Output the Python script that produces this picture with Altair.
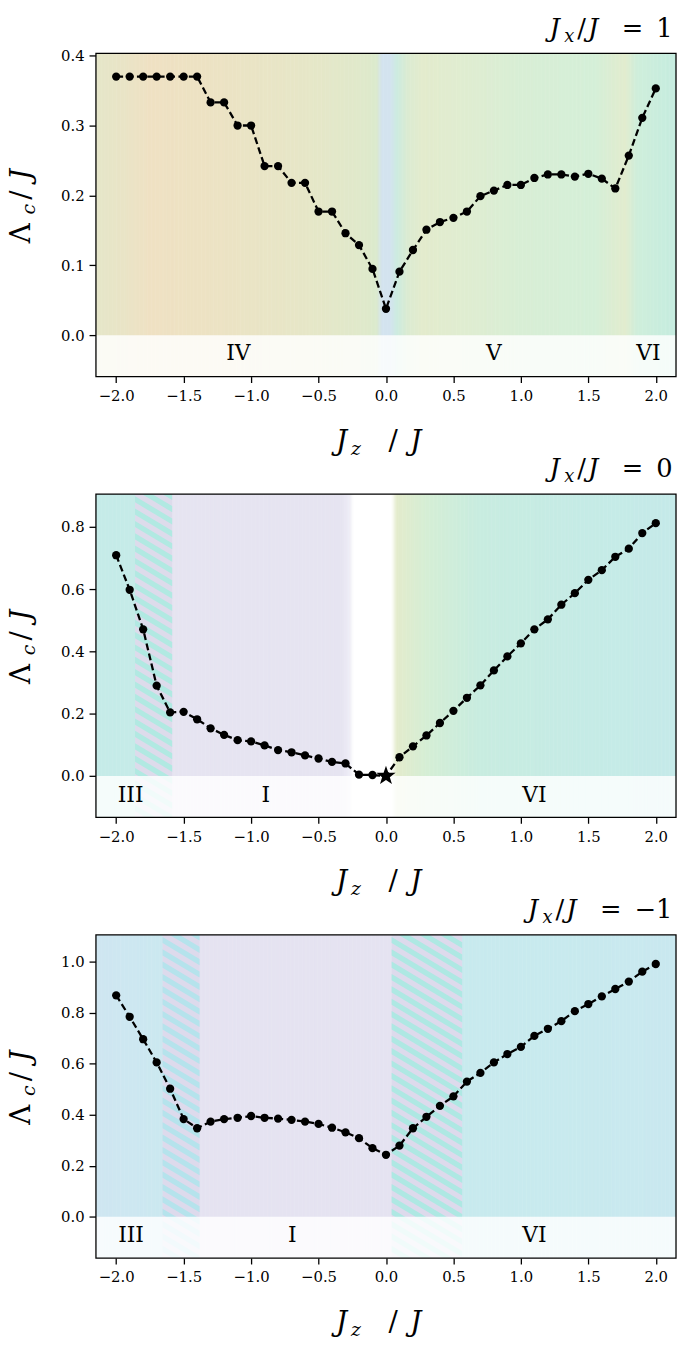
import altair as alt
import pandas as pd
import numpy as np

FONT = "DejaVu Serif"

# ---------------- data ----------------
JZ = [-2.0, -1.9, -1.8, -1.7, -1.6, -1.5, -1.4, -1.3, -1.2, -1.1, -1.0,
      -0.9, -0.8, -0.7, -0.6, -0.5, -0.4, -0.3, -0.2, -0.1, 0.0,
      0.1, 0.2, 0.3, 0.4, 0.5, 0.6, 0.7, 0.8, 0.9, 1.0,
      1.1, 1.2, 1.3, 1.4, 1.5, 1.6, 1.7, 1.8, 1.9, 2.0]

LAM_JX_P1 = [0.370, 0.370, 0.370, 0.370, 0.370, 0.370, 0.370, 0.333, 0.333, 0.300, 0.300,
             0.242, 0.242, 0.218, 0.218, 0.177, 0.177, 0.146, 0.129, 0.095, 0.038,
             0.091, 0.122, 0.151, 0.162, 0.168, 0.177, 0.199, 0.207, 0.215, 0.215,
             0.225, 0.230, 0.230, 0.227, 0.231, 0.224, 0.210, 0.257, 0.311, 0.353]
LAM_JX_0 = [0.709, 0.598, 0.471, 0.290, 0.204, 0.206, 0.182, 0.153, 0.132, 0.115, 0.111,
            0.098, 0.083, 0.076, 0.066, 0.056, 0.045, 0.040, 0.004, 0.003, 0.0,
            0.060, 0.095, 0.130, 0.170, 0.209, 0.251, 0.291, 0.339, 0.384, 0.426,
            0.471, 0.503, 0.550, 0.587, 0.630, 0.661, 0.704, 0.730, 0.780, 0.812]
LAM_JX_M1 = [0.868, 0.784, 0.696, 0.605, 0.502, 0.383, 0.347, 0.373, 0.383, 0.388, 0.395,
             0.388, 0.385, 0.380, 0.373, 0.364, 0.349, 0.331, 0.308, 0.269, 0.243,
             0.279, 0.347, 0.392, 0.435, 0.472, 0.530, 0.564, 0.605, 0.638, 0.666,
             0.709, 0.737, 0.767, 0.806, 0.834, 0.864, 0.893, 0.922, 0.961, 0.991]
STAR_JZ_0 = 0.0  # special (star) point of the J_x/J = 0 panel

XTICKS = [-2.0, -1.5, -1.0, -0.5, 0.0, 0.5, 1.0, 1.5, 2.0]
YTICKS_P1 = [0.0, 0.1, 0.2, 0.3, 0.4]
YTICKS_0 = [0.0, 0.2, 0.4, 0.6, 0.8]
YTICKS_M1 = [0.0, 0.2, 0.4, 0.6, 0.8, 1.0]

XDOM = [-2.15, 2.15]
YDOM_P1 = [-0.059, 0.403]
YDOM_0 = [-0.133, 0.905]
YDOM_M1 = [-0.162, 1.105]

# phase labels
LAB_P1_T = ["IV", "V", "VI"]
LAB_P1_X = [-1.095, 0.80, 1.945]
LAB_0_T = ["III", "I", "VI"]
LAB_0_X = [-1.893, -0.89, 1.10]
LAB_M1_T = ["III", "I", "VI"]
LAB_M1_X = [-1.89, -0.694, 1.10]

# background colour stops (J_z position, colour)
BG_P1_X = [-2.15, -1.95, -1.75, -1.4, -1.0, -0.5, -0.15, -0.07, -0.03, 0.03, 0.08, 0.16, 0.27, 0.6, 1.0, 1.55, 1.68, 1.77, 1.86, 2.15]
BG_P1_C = ["#e5e6c9", "#e9e4c6", "#efe1c3", "#ede2c3", "#eae4c5", "#e5e7c8", "#dfe9cb", "#dbeacd",
           "#d3e3ef", "#d3e3ef", "#ccebe0", "#dbebd2", "#e3ebcd", "#dfedd1", "#d8eed5", "#d5efd8",
           "#dcedd2", "#e2ecce", "#cfeedb", "#c5ecdf"]
BG_0_X = [-2.15, -1.86, -1.585, -0.33, -0.27, -0.24, 0.04, 0.08, 0.3, 0.7, 1.5, 2.15]
BG_0_C = ["#c5ebe8", "#c5ebe8", "#e6e4f1", "#e6e4f1", "#eeedf6", "#ffffff", "#ffffff",
          "#e3ebcc", "#d5eed5", "#c8ece0", "#c5ebe6", "#c5eae9"]
BG_M1_X = [-2.15, -1.9, -1.656, -1.382, 0.042, 0.565, 1.2, 2.15]
BG_M1_C = ["#cfe6f1", "#cde7f1", "#cbe8f0", "#e5e3f1", "#e5e3f1", "#c8eaee", "#c8eaee", "#c9e8ef"]

# hatched (coexistence) regions: start, end, stripe colour A, stripe colour B
HATCH_0 = [(-1.86, -1.585, "#b1e9e2", "#dddbeb")]
HATCH_M1 = [(-1.656, -1.382, "#b5e3ec", "#dddaec"), (0.042, 0.565, "#aee8e3", "#dddaec")]

W, H = 587, 327
ONE = pd.DataFrame({"k": [0]})
STEP = 0.01
STAR_PATH = ("M0,-1L0.235,-0.324L0.951,-0.309L0.38,0.124L0.588,0.809L0,0.4"
             "L-0.588,0.809L-0.38,0.124L-0.951,-0.309L-0.235,-0.324Z")


def hex2rgb(h):
    return np.array([int(h[i:i + 2], 16) for i in (1, 3, 5)], dtype=float)


def strips(bg_x, bg_c):
    """Thin background strips whose colour follows the colour stops."""
    cols = np.array([hex2rgb(c) for c in bg_c])
    xs = np.arange(XDOM[0], XDOM[1] - 1e-9, STEP)
    rows = []
    for x in xs:
        xm = x + STEP / 2
        rgb = [np.interp(xm, bg_x, cols[:, j]) for j in range(3)]
        rows.append({"x": float(x), "x2": float(min(x + STEP + 0.004, XDOM[1])),
                     "c": "#%02x%02x%02x" % tuple(int(round(v)) for v in rgb)})
    return pd.DataFrame(rows)


def hatch_rows(h0, h1, ydom, slope=0.6, period=12.5):
    """Diagonal stripes as polygons clipped exactly to the hatched rectangle."""
    span = XDOM[1] - XDOM[0]
    kx = W / span
    ky = H / (ydom[1] - ydom[0])
    m = slope * kx / ky                 # data-y drop per data-x unit
    thick = (period / 2) / ky
    step = period / ky
    drop = m * (h1 - h0)
    y0, y1 = ydom
    rows = []
    b = y0 - thick
    i = 0
    while b - drop < y1:
        if b + thick > y0:
            xs = {h0, h1}
            for off in (0.0, thick):
                for yb in (y0, y1):
                    xc = h0 + (b + off - yb) / m
                    if h0 < xc < h1:
                        xs.add(xc)
            for x in sorted(xs):
                lo = b - m * (x - h0)
                hi = lo + thick
                rows.append({"sid": i, "x": x,
                             "lo": min(max(lo, y0), y1), "hi": min(max(hi, y0), y1)})
            i += 1
        b += step
    return pd.DataFrame(rows)


def txt(s, px, py, size, italic=False, angle=0, dx=0, dy=0):
    return alt.Chart(ONE).mark_text(
        text=s, font=FONT, fontSize=size, fontStyle="italic" if italic else "normal",
        align="left", baseline="alphabetic", angle=angle, dx=dx, dy=dy, color="black"
    ).encode(x=alt.value(px), y=alt.value(py))


def panel(lam, ydom, yticks, bg_x, bg_c, hatches, lab_x, lab_t, lab_y, value, shift, star_x=None):
    XS = alt.Scale(domain=XDOM, nice=False, zero=False)
    YS = alt.Scale(domain=ydom, nice=False, zero=False)
    XAX = alt.Axis(values=XTICKS, format=".1f", title=None)
    YAX = alt.Axis(values=yticks, format=".1f", title=None)

    def X(f="x"):
        return alt.X(f + ":Q", scale=XS, axis=XAX)

    def Y(f="y"):
        return alt.Y(f + ":Q", scale=YS, axis=YAX)

    sd = strips(bg_x, bg_c)
    sd["y"] = ydom[0]
    sd["y2"] = ydom[1]
    layers = [alt.Chart(sd).mark_rect().encode(x=X(), x2="x2:Q", y=Y(), y2="y2:Q",
                                                color=alt.Color("c:N", scale=None))]

    for (h0, h1, ca, cb) in hatches:
        hd = pd.DataFrame({"x": [h0], "x2": [h1], "y": [ydom[0]], "y2": [ydom[1]]})
        layers.append(alt.Chart(hd).mark_rect(color=cb).encode(x=X(), x2="x2:Q", y=Y(), y2="y2:Q"))
        layers.append(alt.Chart(hatch_rows(h0, h1, ydom)).mark_area(color=ca, opacity=1)
                      .encode(x=X(), y=Y("lo"), y2="hi:Q", detail="sid:N"))

    band = pd.DataFrame({"x": [XDOM[0]], "x2": [XDOM[1]], "y": [ydom[0]], "y2": [0.0]})
    layers.append(alt.Chart(band).mark_rect(color="white", opacity=0.82)
                  .encode(x=X(), x2="x2:Q", y=Y(), y2="y2:Q"))

    df = pd.DataFrame({"x": JZ, "y": lam})
    layers.append(alt.Chart(df).mark_line(color="black", strokeWidth=2.3, strokeDash=[7, 3.5])
                  .encode(x=X(), y=Y()))
    if star_x is None:
        pts = df
    else:
        pts = df[df.x != star_x].reset_index(drop=True)
        layers.append(alt.Chart(df[df.x == star_x].reset_index(drop=True))
                      .mark_point(filled=True, shape=STAR_PATH, size=420, color="black", opacity=1)
                      .encode(x=X(), y=Y()))
    layers.append(alt.Chart(pts).mark_circle(size=70, color="black", opacity=1).encode(x=X(), y=Y()))

    labs = pd.DataFrame({"x": lab_x, "y": [lab_y] * len(lab_x), "t": lab_t})
    layers.append(alt.Chart(labs).mark_text(font=FONT, fontSize=22, color="black", align="center", baseline="middle")
                  .encode(x=X(), y=Y(), text="t:N"))

    full = pd.DataFrame({"x": [XDOM[0]], "x2": [XDOM[1]], "y": [ydom[0]], "y2": [ydom[1]]})
    layers.append(alt.Chart(full).mark_rect(fillOpacity=0, stroke="black", strokeWidth=1.3)
                  .encode(x=X(), x2="x2:Q", y=Y(), y2="y2:Q"))

    # panel title  J_x / J = value
    s = shift
    layers += [
        txt("J", 459 + s, -17, 26, italic=True),
        txt("x", 474 + s, -12, 18, italic=True),
        txt("/", 487 + s, -17, 26),
        txt("J", 498 + s, -17, 26, italic=True),
        txt("=", 532 + s, -17, 26),
        txt(value, 567 + s, -17, 26),
    ]
    # x axis title  J_z / J
    layers += [
        txt("J", 243, 401, 28, italic=True),
        txt("z", 258, 406, 19, italic=True),
        txt("/", 296, 401, 28),
        txt("J", 318, 401, 28, italic=True),
    ]
    # y axis title  Λ_c / J (rotated)
    ax, ay = -67, 192
    layers += [
        txt("Λ", ax, ay, 28, angle=270, dx=0),
        txt("c", ax, ay, 19, italic=True, angle=270, dx=29, dy=5),
        txt("/", ax, ay, 28, angle=270, dx=44),
        txt("J", ax, ay, 28, italic=True, angle=270, dx=64),
    ]
    return alt.layer(*layers).properties(width=W, height=H)


p1 = panel(LAM_JX_P1, YDOM_P1, YTICKS_P1, BG_P1_X, BG_P1_C, [], LAB_P1_X, LAB_P1_T, -0.026, "1", 0)
p2 = panel(LAM_JX_0, YDOM_0, YTICKS_0, BG_0_X, BG_0_C, HATCH_0, LAB_0_X, LAB_0_T, -0.062, "0", 0, star_x=STAR_JZ_0)
p3 = panel(LAM_JX_M1, YDOM_M1, YTICKS_M1, BG_M1_X, BG_M1_C, HATCH_M1, LAB_M1_X, LAB_M1_T, -0.072, "−1", -22)

chart = alt.vconcat(p1, p2, p3, spacing=119, bounds="flush", padding=0).configure_view(
    strokeWidth=0
).configure_axis(
    labelFont=FONT, labelFontSize=15, labelColor="black", tickColor="black",
    tickWidth=1.3, domain=False, grid=False
).configure_axisX(tickSize=6, labelPadding=6).configure_axisY(tickSize=7, labelPadding=5)

chart.save("out.html", embed_options={"renderer": "svg", "actions": False})
